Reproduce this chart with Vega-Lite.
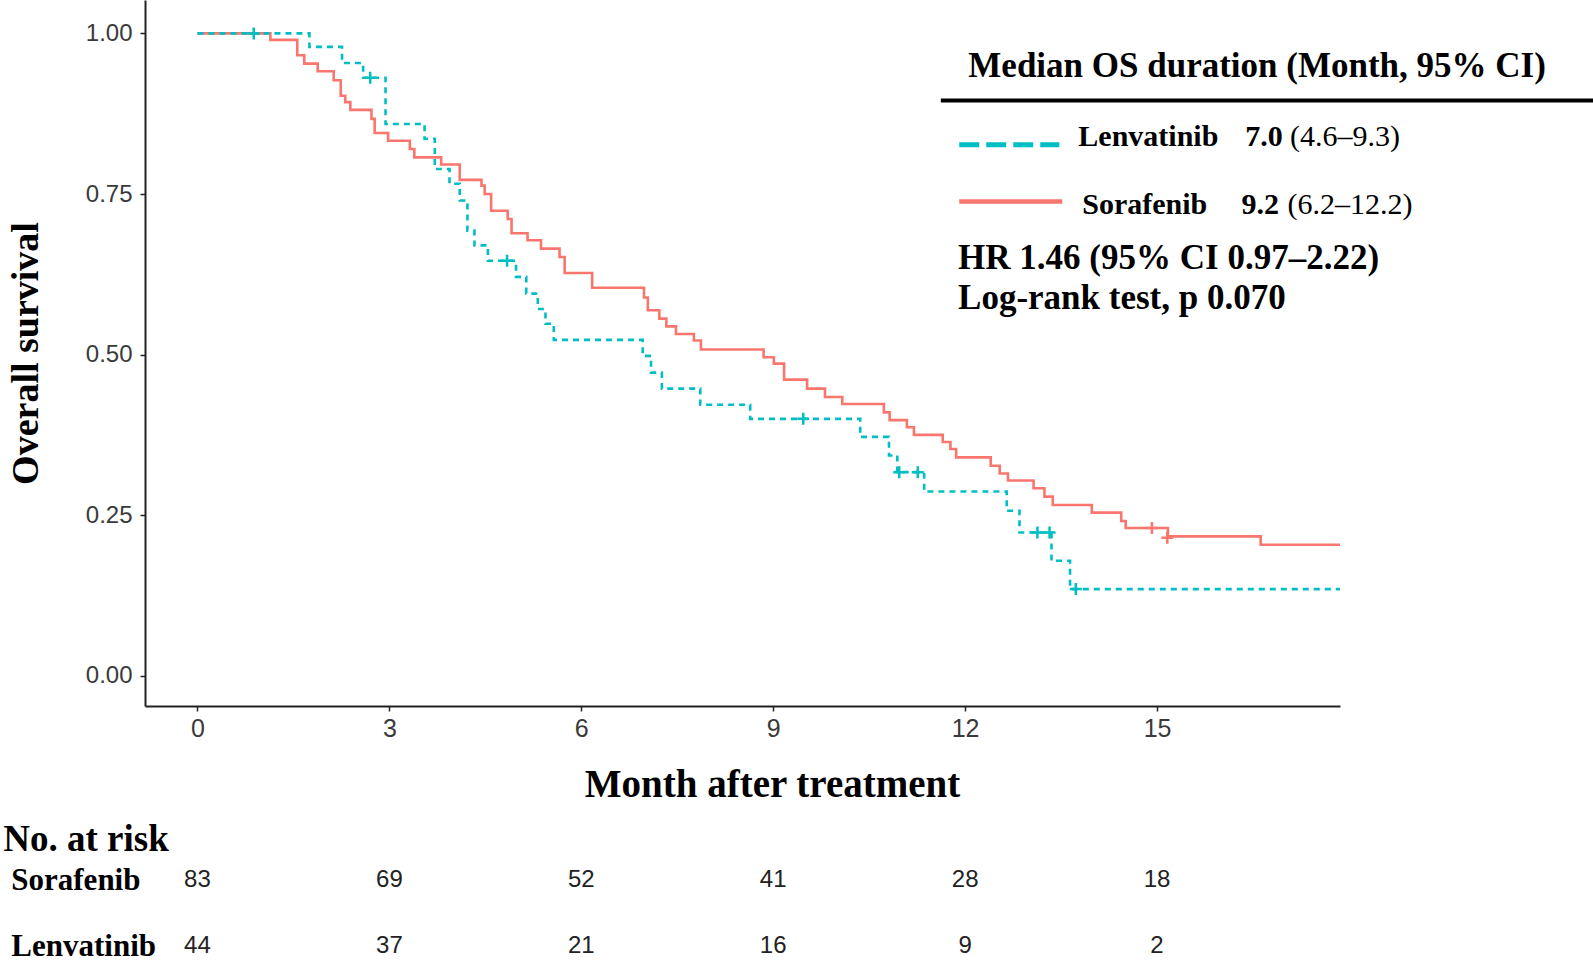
{
  "$schema": "https://vega.github.io/schema/vega-lite/v6.json",
  "background": "white",
  "padding": {"left": 2, "top": 0, "right": 0, "bottom": 0},
  "autosize": {"type": "pad"},
  "spacing": 16,
  "config": {"view": {"stroke": null}, "font": "Liberation Sans"},
  "resolve": {"scale": {"x": "independent", "y": "independent"}},
  "datasets": {
    "km": [
      {"group": "Sorafenib", "time": 0, "surv": 1},
      {"group": "Sorafenib", "time": 1.14, "surv": 0.990},
      {"group": "Sorafenib", "time": 1.56, "surv": 0.966},
      {"group": "Sorafenib", "time": 1.67, "surv": 0.953},
      {"group": "Sorafenib", "time": 1.88, "surv": 0.941},
      {"group": "Sorafenib", "time": 2.13, "surv": 0.927},
      {"group": "Sorafenib", "time": 2.24, "surv": 0.903},
      {"group": "Sorafenib", "time": 2.31, "surv": 0.893},
      {"group": "Sorafenib", "time": 2.39, "surv": 0.881},
      {"group": "Sorafenib", "time": 2.72, "surv": 0.867},
      {"group": "Sorafenib", "time": 2.77, "surv": 0.845},
      {"group": "Sorafenib", "time": 2.98, "surv": 0.833},
      {"group": "Sorafenib", "time": 3.32, "surv": 0.820},
      {"group": "Sorafenib", "time": 3.39, "surv": 0.807},
      {"group": "Sorafenib", "time": 3.81, "surv": 0.796},
      {"group": "Sorafenib", "time": 4.10, "surv": 0.772},
      {"group": "Sorafenib", "time": 4.44, "surv": 0.763},
      {"group": "Sorafenib", "time": 4.49, "surv": 0.750},
      {"group": "Sorafenib", "time": 4.59, "surv": 0.724},
      {"group": "Sorafenib", "time": 4.85, "surv": 0.711},
      {"group": "Sorafenib", "time": 4.91, "surv": 0.689},
      {"group": "Sorafenib", "time": 5.16, "surv": 0.678},
      {"group": "Sorafenib", "time": 5.37, "surv": 0.665},
      {"group": "Sorafenib", "time": 5.66, "surv": 0.652},
      {"group": "Sorafenib", "time": 5.74, "surv": 0.627},
      {"group": "Sorafenib", "time": 6.17, "surv": 0.604},
      {"group": "Sorafenib", "time": 6.98, "surv": 0.589},
      {"group": "Sorafenib", "time": 7.04, "surv": 0.569},
      {"group": "Sorafenib", "time": 7.22, "surv": 0.556},
      {"group": "Sorafenib", "time": 7.33, "surv": 0.544},
      {"group": "Sorafenib", "time": 7.48, "surv": 0.532},
      {"group": "Sorafenib", "time": 7.76, "surv": 0.522},
      {"group": "Sorafenib", "time": 7.87, "surv": 0.508},
      {"group": "Sorafenib", "time": 8.85, "surv": 0.496},
      {"group": "Sorafenib", "time": 9.01, "surv": 0.486},
      {"group": "Sorafenib", "time": 9.17, "surv": 0.461},
      {"group": "Sorafenib", "time": 9.53, "surv": 0.447},
      {"group": "Sorafenib", "time": 9.81, "surv": 0.434},
      {"group": "Sorafenib", "time": 10.08, "surv": 0.423},
      {"group": "Sorafenib", "time": 10.73, "surv": 0.410},
      {"group": "Sorafenib", "time": 10.82, "surv": 0.398},
      {"group": "Sorafenib", "time": 11.09, "surv": 0.387},
      {"group": "Sorafenib", "time": 11.20, "surv": 0.375},
      {"group": "Sorafenib", "time": 11.65, "surv": 0.364},
      {"group": "Sorafenib", "time": 11.77, "surv": 0.353},
      {"group": "Sorafenib", "time": 11.86, "surv": 0.340},
      {"group": "Sorafenib", "time": 12.40, "surv": 0.327},
      {"group": "Sorafenib", "time": 12.54, "surv": 0.315},
      {"group": "Sorafenib", "time": 12.67, "surv": 0.304},
      {"group": "Sorafenib", "time": 13.07, "surv": 0.292},
      {"group": "Sorafenib", "time": 13.24, "surv": 0.279},
      {"group": "Sorafenib", "time": 13.37, "surv": 0.266},
      {"group": "Sorafenib", "time": 13.98, "surv": 0.254},
      {"group": "Sorafenib", "time": 14.44, "surv": 0.241},
      {"group": "Sorafenib", "time": 14.51, "surv": 0.230},
      {"group": "Sorafenib", "time": 15.17, "surv": 0.217},
      {"group": "Sorafenib", "time": 16.62, "surv": 0.204},
      {"group": "Sorafenib", "time": 17.86, "surv": 0.204},
      {"group": "Lenvatinib", "time": 0, "surv": 1},
      {"group": "Lenvatinib", "time": 1.75, "surv": 0.979},
      {"group": "Lenvatinib", "time": 2.26, "surv": 0.954},
      {"group": "Lenvatinib", "time": 2.59, "surv": 0.931},
      {"group": "Lenvatinib", "time": 2.94, "surv": 0.859},
      {"group": "Lenvatinib", "time": 3.55, "surv": 0.836},
      {"group": "Lenvatinib", "time": 3.71, "surv": 0.789},
      {"group": "Lenvatinib", "time": 3.94, "surv": 0.766},
      {"group": "Lenvatinib", "time": 4.10, "surv": 0.740},
      {"group": "Lenvatinib", "time": 4.22, "surv": 0.693},
      {"group": "Lenvatinib", "time": 4.33, "surv": 0.670},
      {"group": "Lenvatinib", "time": 4.54, "surv": 0.646},
      {"group": "Lenvatinib", "time": 4.98, "surv": 0.621},
      {"group": "Lenvatinib", "time": 5.14, "surv": 0.595},
      {"group": "Lenvatinib", "time": 5.32, "surv": 0.571},
      {"group": "Lenvatinib", "time": 5.44, "surv": 0.548},
      {"group": "Lenvatinib", "time": 5.57, "surv": 0.523},
      {"group": "Lenvatinib", "time": 6.96, "surv": 0.498},
      {"group": "Lenvatinib", "time": 7.09, "surv": 0.472},
      {"group": "Lenvatinib", "time": 7.26, "surv": 0.447},
      {"group": "Lenvatinib", "time": 7.86, "surv": 0.422},
      {"group": "Lenvatinib", "time": 8.64, "surv": 0.400},
      {"group": "Lenvatinib", "time": 10.36, "surv": 0.372},
      {"group": "Lenvatinib", "time": 10.81, "surv": 0.343},
      {"group": "Lenvatinib", "time": 10.94, "surv": 0.317},
      {"group": "Lenvatinib", "time": 11.36, "surv": 0.287},
      {"group": "Lenvatinib", "time": 12.65, "surv": 0.257},
      {"group": "Lenvatinib", "time": 12.85, "surv": 0.223},
      {"group": "Lenvatinib", "time": 13.35, "surv": 0.179},
      {"group": "Lenvatinib", "time": 13.64, "surv": 0.135},
      {"group": "Lenvatinib", "time": 17.86, "surv": 0.135}
    ],
    "censor": [
      {"group": "Lenvatinib", "time": 0.88, "surv": 1.0},
      {"group": "Lenvatinib", "time": 2.70, "surv": 0.931},
      {"group": "Lenvatinib", "time": 4.84, "surv": 0.646},
      {"group": "Lenvatinib", "time": 9.47, "surv": 0.400},
      {"group": "Lenvatinib", "time": 10.97, "surv": 0.317},
      {"group": "Lenvatinib", "time": 11.26, "surv": 0.317},
      {"group": "Lenvatinib", "time": 13.13, "surv": 0.223},
      {"group": "Lenvatinib", "time": 13.32, "surv": 0.223},
      {"group": "Lenvatinib", "time": 13.73, "surv": 0.135},
      {"group": "Sorafenib", "time": 14.92, "surv": 0.230},
      {"group": "Sorafenib", "time": 15.16, "surv": 0.215}
    ],
    "notes": [
      {"key": "title", "label": "Median OS duration (Month, 95% CI)"},
      {"key": "lenv", "label": "Lenvatinib"},
      {"key": "lenvmed", "label": "7.0"},
      {"key": "lenvci", "label": "(4.6–9.3)"},
      {"key": "sora", "label": "Sorafenib"},
      {"key": "soramed", "label": "9.2"},
      {"key": "soraci", "label": "(6.2–12.2)"},
      {"key": "hr", "label": "HR 1.46 (95% CI 0.97–2.22)"},
      {"key": "lr", "label": "Log-rank test, p 0.070"}
    ],
    "risk": [
      {"group": "Sorafenib", "time": 0, "n": 83},
      {"group": "Sorafenib", "time": 3, "n": 69},
      {"group": "Sorafenib", "time": 6, "n": 52},
      {"group": "Sorafenib", "time": 9, "n": 41},
      {"group": "Sorafenib", "time": 12, "n": 28},
      {"group": "Sorafenib", "time": 15, "n": 18},
      {"group": "Lenvatinib", "time": 0, "n": 44},
      {"group": "Lenvatinib", "time": 3, "n": 37},
      {"group": "Lenvatinib", "time": 6, "n": 21},
      {"group": "Lenvatinib", "time": 9, "n": 16},
      {"group": "Lenvatinib", "time": 12, "n": 9},
      {"group": "Lenvatinib", "time": 15, "n": 2}
    ]
  },
  "vconcat": [
    {
      "width": 1195,
      "height": 706,
      "layer": [
        {"data": {"name": "km"}, "transform": [{"filter": "datum.group === 'Sorafenib'"}],
          "mark": {"type": "line", "interpolate": "step-after", "strokeWidth": 2.6},
          "encoding": {
            "x": {"field": "time", "type": "quantitative",
              "scale": {"domain": [-0.82, 17.86], "nice": false, "zero": false},
              "axis": {"values": [0, 3, 6, 9, 12, 15], "format": "d", "grid": false,
                "labelFont": "Liberation Sans", "labelFontSize": 25, "labelColor": "#3a3a3a", "labelPadding": 5,
                "tickSize": 5, "tickColor": "#222", "tickWidth": 1.5, "domainColor": "#222", "domainWidth": 2,
                "title": "Month after treatment", "titleFont": "Liberation Serif", "titleFontWeight": "bold", "titleFontSize": 39,
                "titleColor": "black", "titleX": 627, "titleY": 78, "titleBaseline": "middle", "titleAlign": "center"}},
            "y": {"field": "surv", "type": "quantitative",
              "scale": {"domain": [-0.047, 1.052], "nice": false, "zero": false},
              "axis": {"values": [0, 0.25, 0.5, 0.75, 1], "format": ".2f", "grid": false,
                "labelFont": "Liberation Sans", "labelFontSize": 24, "labelColor": "#3a3a3a", "labelPadding": 8,
                "tickSize": 5, "tickColor": "#222", "tickWidth": 1.5, "domainColor": "#222", "domainWidth": 2,
                "title": "Overall survival", "titleFont": "Liberation Serif", "titleFontWeight": "bold", "titleFontSize": 38,
                "titleColor": "black", "titleX": -119, "titleY": 353, "titleAngle": -90, "titleBaseline": "middle", "titleAlign": "center"}},
            "color": {"field": "group", "type": "nominal",
              "scale": {"domain": ["Lenvatinib", "Sorafenib"], "range": ["#00BFC4", "#F8766D"]}, "legend": null}
          }},
        {"data": {"name": "km"}, "transform": [{"filter": "datum.group === 'Lenvatinib'"}],
          "mark": {"type": "line", "interpolate": "step-after", "strokeWidth": 2.6, "strokeDash": [6, 5]},
          "encoding": {
            "x": {"field": "time", "type": "quantitative"},
            "y": {"field": "surv", "type": "quantitative"},
            "color": {"field": "group", "type": "nominal", "legend": null}
          }},
        {"data": {"name": "censor"},
          "mark": {"type": "point", "shape": "M-1,0L1,0M0,-1L0,1", "size": 144, "strokeWidth": 2.5, "filled": false, "opacity": 1},
          "encoding": {
            "x": {"field": "time", "type": "quantitative"},
            "y": {"field": "surv", "type": "quantitative"},
            "color": {"field": "group", "type": "nominal", "legend": null}
          }},
        {"data": {"name": "notes"}, "transform": [{"filter": "datum.key === 'title'"}],
          "mark": {"type": "rule", "strokeWidth": 4, "color": "black"},
          "encoding": {"x": {"datum": 11.62}, "x2": {"datum": 21.82}, "y": {"datum": 0.8956}}},
        {"data": {"name": "notes"}, "transform": [{"filter": "datum.key === 'lenv'"}],
          "mark": {"type": "rule", "strokeWidth": 5, "strokeDash": [20, 7], "color": "#00BFC4"},
          "encoding": {"x": {"datum": 11.908}, "x2": {"datum": 13.473}, "y": {"datum": 0.8266}}},
        {"data": {"name": "notes"}, "transform": [{"filter": "datum.key === 'sora'"}],
          "mark": {"type": "rule", "strokeWidth": 4.5, "color": "#F8766D"},
          "encoding": {"x": {"datum": 11.908}, "x2": {"datum": 13.519}, "y": {"datum": 0.7383}}},
        {"data": {"name": "notes"}, "transform": [{"filter": "datum.key === 'title'"}],
          "mark": {"type": "text", "font": "Liberation Serif", "fontWeight": "bold", "fontSize": 35, "align": "left", "baseline": "alphabetic", "color": "black"},
          "encoding": {"x": {"datum": 12.05}, "y": {"datum": 0.932}, "text": {"field": "label"}}},
        {"data": {"name": "notes"}, "transform": [{"filter": "datum.key === 'lenv'"}],
          "mark": {"type": "text", "font": "Liberation Serif", "fontWeight": "bold", "fontSize": 30, "align": "left", "baseline": "alphabetic", "color": "black"},
          "encoding": {"x": {"datum": 13.77}, "y": {"datum": 0.8255}, "text": {"field": "label"}}},
        {"data": {"name": "notes"}, "transform": [{"filter": "datum.key === 'lenvmed'"}],
          "mark": {"type": "text", "font": "Liberation Serif", "fontWeight": "bold", "fontSize": 30, "align": "left", "baseline": "alphabetic", "color": "black"},
          "encoding": {"x": {"datum": 16.38}, "y": {"datum": 0.8255}, "text": {"field": "label"}}},
        {"data": {"name": "notes"}, "transform": [{"filter": "datum.key === 'lenvci'"}],
          "mark": {"type": "text", "font": "Liberation Serif", "fontWeight": "normal", "fontSize": 30, "align": "left", "baseline": "alphabetic", "color": "black"},
          "encoding": {"x": {"datum": 17.08}, "y": {"datum": 0.8255}, "text": {"field": "label"}}},
        {"data": {"name": "notes"}, "transform": [{"filter": "datum.key === 'sora'"}],
          "mark": {"type": "text", "font": "Liberation Serif", "fontWeight": "bold", "fontSize": 30, "align": "left", "baseline": "alphabetic", "color": "black"},
          "encoding": {"x": {"datum": 13.83}, "y": {"datum": 0.7196}, "text": {"field": "label"}}},
        {"data": {"name": "notes"}, "transform": [{"filter": "datum.key === 'soramed'"}],
          "mark": {"type": "text", "font": "Liberation Serif", "fontWeight": "bold", "fontSize": 30, "align": "left", "baseline": "alphabetic", "color": "black"},
          "encoding": {"x": {"datum": 16.32}, "y": {"datum": 0.7196}, "text": {"field": "label"}}},
        {"data": {"name": "notes"}, "transform": [{"filter": "datum.key === 'soraci'"}],
          "mark": {"type": "text", "font": "Liberation Serif", "fontWeight": "normal", "fontSize": 30, "align": "left", "baseline": "alphabetic", "color": "black"},
          "encoding": {"x": {"datum": 17.04}, "y": {"datum": 0.7196}, "text": {"field": "label"}}},
        {"data": {"name": "notes"}, "transform": [{"filter": "datum.key === 'hr'"}],
          "mark": {"type": "text", "font": "Liberation Serif", "fontWeight": "bold", "fontSize": 35, "align": "left", "baseline": "alphabetic", "color": "black"},
          "encoding": {"x": {"datum": 11.89}, "y": {"datum": 0.634}, "text": {"field": "label"}}},
        {"data": {"name": "notes"}, "transform": [{"filter": "datum.key === 'lr'"}],
          "mark": {"type": "text", "font": "Liberation Serif", "fontWeight": "bold", "fontSize": 35, "align": "left", "baseline": "alphabetic", "color": "black"},
          "encoding": {"x": {"datum": 11.89}, "y": {"datum": 0.5717}, "text": {"field": "label"}}}
      ]
    },
    {
      "width": 1195,
      "height": 66,
      "data": {"name": "risk"},
      "mark": {"type": "text", "font": "Liberation Sans", "fontSize": 24, "baseline": "middle", "align": "center", "color": "#222"},
      "encoding": {
        "x": {"field": "time", "type": "quantitative", "scale": {"domain": [-0.82, 17.86], "nice": false, "zero": false}, "axis": null},
        "y": {"field": "group", "type": "nominal",
          "scale": {"type": "point", "domain": ["Sorafenib", "Lenvatinib"], "padding": 0},
          "axis": {"domain": false, "ticks": false, "tickSize": 0, "labelAlign": "left", "labelBaseline": "middle", "labelPadding": 134.2,
            "labelFont": "Liberation Serif", "labelFontWeight": "bold", "labelFontSize": 31, "labelColor": "black",
            "title": "No. at risk", "titleFont": "Liberation Serif", "titleFontWeight": "bold", "titleFontSize": 37, "titleColor": "black",
            "titleAngle": 0, "titleAlign": "left", "titleBaseline": "middle", "titleX": -142.2, "titleY": -41}},
        "text": {"field": "n", "type": "quantitative"}
      }
    }
  ]
}
